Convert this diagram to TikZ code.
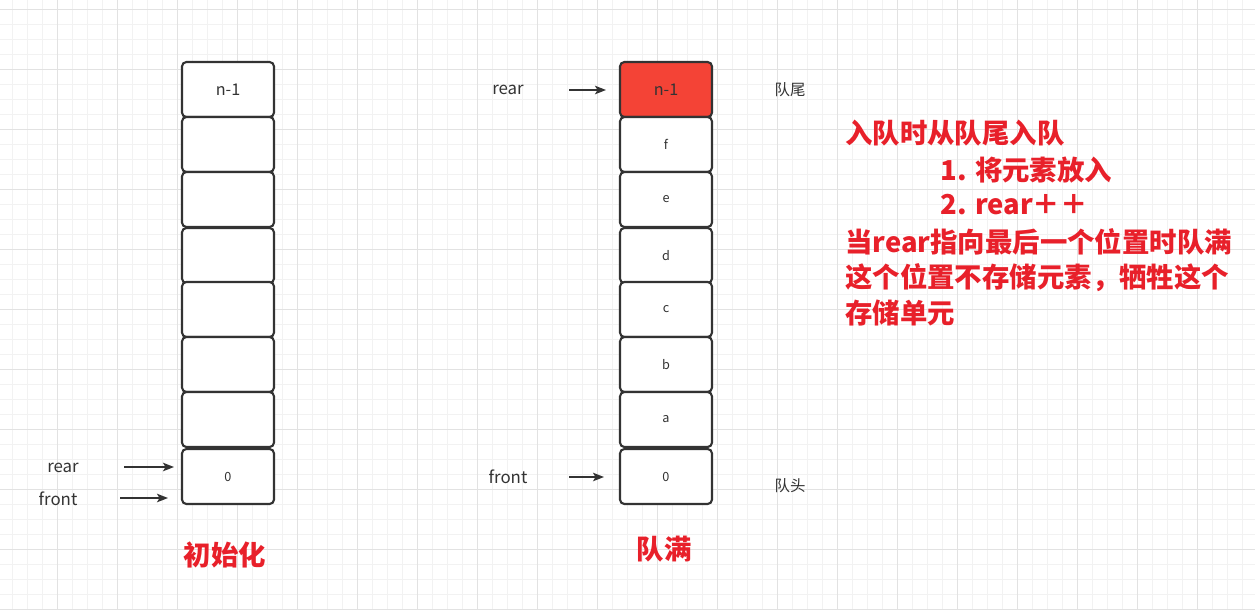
\documentclass[tikz,border=0pt]{standalone}
\usepackage{fontspec}
\setmainfont{Noto Sans CJK SC}
\usetikzlibrary{arrows.meta}
\definecolor{QueueInk}{HTML}{333333}
\definecolor{QueueHot}{HTML}{F44336}
\definecolor{NoteRed}{HTML}{E8202A}
\definecolor{GridMinor}{HTML}{F2F2F2}
\definecolor{GridMajor}{HTML}{E2E2E2}
\tikzset{
  every node/.style={text=QueueInk},
  cell/.style={draw=QueueInk, line width=1.2pt, fill=white, rounded corners=2.5pt,
    minimum width=1.84cm, minimum height=1.1cm, inner sep=0pt, outer sep=0pt},
  cellbig/.style={font=\fontsize{9.2}{11}\selectfont},
  cellsmall/.style={font=\fontsize{7.2}{8}\selectfont},
  cellhot/.style={cellbig, fill=QueueHot},
  pointer/.style={-{Stealth[length=2.2mm,width=1.7mm,inset=0.5mm]}, draw=QueueInk, line width=0.85pt},
  tag/.style={font=\fontsize{9.6}{11}\selectfont},
  side/.style={font=\fontsize{8.8}{10}\selectfont},
  caption/.style={font=\fontsize{15.6}{18}\selectfont\bfseries, text=NoteRed},
  note/.style={caption, anchor=west, inner sep=0pt},
  gridminor/.style={draw=GridMinor, line width=0.55pt},
  gridmajor/.style={draw=GridMajor, line width=0.6pt},
}

\begin{document}
\begin{tikzpicture}[x=0.02cm,y=-0.02cm]
  \useasboundingbox (0,0) rectangle (1255,610);
  \fill[white] (0,0) rectangle (1255,610);
  % background grid
  \foreach \k in {0,...,84}
    \draw[gridminor] ({-2.3+15*\k},0) -- ++(0,610);
  \foreach \k in {0,...,41}
    \draw[gridminor] (0,{-5.7+15*\k}) -- ++(1255,0);
  \foreach \k in {0,...,21}
    \draw[gridmajor] ({-2.3+60*\k},0) -- ++(0,610);
  \foreach \k in {0,...,10}
    \draw[gridmajor] (0,{9.3+60*\k}) -- ++(1255,0);

  % Queue after init
  \foreach \i/\yy/\txt/\sz in {7/89.5/n-1/cellbig,6/144.5//cellsmall,5/199.5//cellsmall,4/255.5//cellsmall,
      3/309.5//cellsmall,2/364.5//cellsmall,1/419.5//cellsmall,0/476.5/0/cellsmall}
    \node[cell,\sz] (L\i) at (228,\yy) {\txt};
  \node[tag] (rearL) at (63,468) {rear};
  \node[tag] (frontL) at (58,499) {front};
  \coordinate (rearLtail) at (124,467);
  \coordinate (frontLtail) at (120,498);
  \draw[pointer, shorten >=0.16cm] (rearLtail) -- (rearLtail -| L0.west);
  \draw[pointer, shorten >=0.28cm] (frontLtail) -- (frontLtail -| L0.west);
  \node[caption] (initcap) at (225,555) {初始化};

  % Queue when full
  \foreach \i/\yy/\txt/\sz in {7/89.5/n-1/cellhot,6/144.5/f/cellsmall,5/199.5/e/cellsmall,4/255.5/d/cellsmall,
      3/309.5/c/cellsmall,2/364.5/b/cellsmall,1/419.5/a/cellsmall,0/476.5/0/cellsmall}
    \node[cell,\sz] (R\i) at (666,\yy) {\txt};
  \node[tag] (rearR) at (508,90) {rear};
  \node[tag] (frontR) at (508,477) {front};
  \coordinate (rearRtail) at (569,90);
  \coordinate (frontRtail) at (569,477);
  \draw[pointer, shorten >=0.28cm] (rearRtail) -- (rearRtail -| R7.west);
  \draw[pointer, shorten >=0.32cm] (frontRtail) -- (frontRtail -| R0.west);
  \node[side] (tail) at (790,90) {队尾};
  \node[side] (head) at (790,486) {队头};
  \node[caption] (fullcap) at (664,549) {队满};

  % notes
  \node[note] (note1) at (845,133) {入队时从队尾入队};
  \node[note] (note2) at (940,170) {1. 将元素放入};
  \node[note] (note3) at (940,205) {2. rear＋＋};
  \node[note] (note4) at (845,242) {当rear指向最后一个位置时队满};
  \node[note] (note5) at (845,278) {这个位置不存储元素，牺牲这个};
  \node[note] (note6) at (845,313) {存储单元};
\end{tikzpicture}
\end{document}
